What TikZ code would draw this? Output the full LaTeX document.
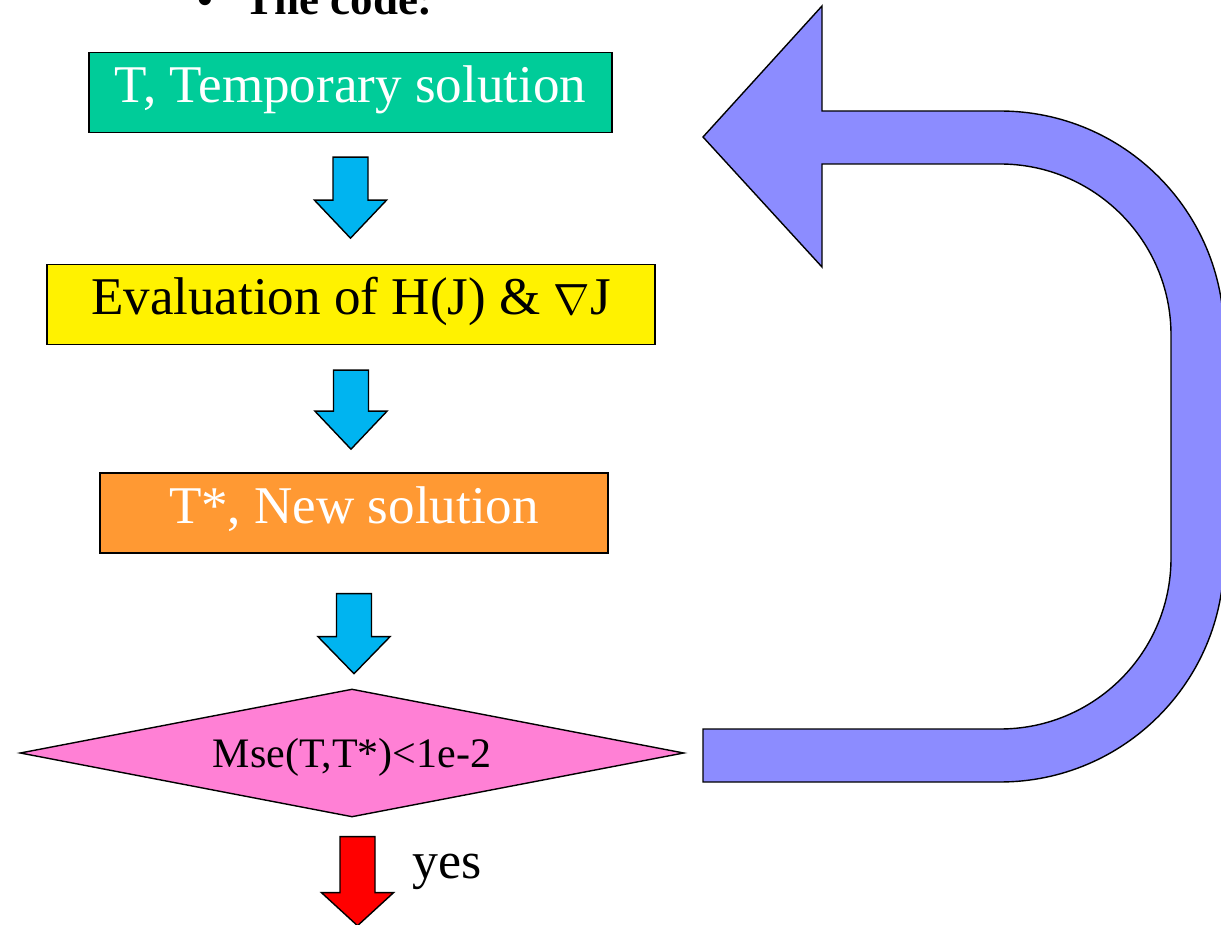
\documentclass[tikz,border=0pt]{standalone}
\usepackage{fontspec}
\setmainfont{Liberation Serif}
\usetikzlibrary{calc,shapes.geometric}
\definecolor{boxgreen}{HTML}{00CC99}
\definecolor{boxorange}{HTML}{FF9933}
\definecolor{flowblue}{HTML}{00B4F0}
\definecolor{testpink}{HTML}{FF80D5}
\definecolor{loopblue}{HTML}{8C8CFF}
\newcommand{\blockdown}[4]{\draw[fill=#2] (#1) ++(-17.5,0) -- ++(35,0) -- ++(0,#3)
  -- ++(18.5,0) -- ++(-36,#4) -- ++(-36,-#4) -- ++(18.5,0) -- cycle;}

\begin{document}
\begin{tikzpicture}[x=0.02cm,y=-0.02cm,line width=0.8pt,
  box/.style={draw,rectangle,inner sep=0pt,minimum height=1.6cm,
    font=\fontsize{30.2}{33}\selectfont,text height=18pt,text depth=6.6pt}]
\useasboundingbox (0,0) rectangle (1221,925);
\node[anchor=base west,font=\fontsize{25.6}{28}\selectfont\bfseries] (title) at (191,15)
  {\textbullet\hspace{0.69em}The code:};
\node[box,fill=boxgreen,text=white,minimum width=10.46cm] (temp) at (350.5,92.5) {T, Temporary solution};
\node[box,fill=yellow,minimum width=12.16cm] (eval) at (351,304.5) {Evaluation of H(J) \& $\nabla$J};
\node[box,fill=boxorange,text=white,minimum width=10.16cm] (new) at (354,513) {T*, New solution};
\node[draw,diamond,fill=testpink,aspect=5.2,inner sep=0pt,minimum width=13.28cm,minimum height=2.56cm,
  font=\fontsize{23.9}{26}\selectfont,text height=20pt,text depth=3pt] (test) at (352,753) {Mse(T,T*)<1e-2};
\blockdown{$(temp.south)+(0,24)$}{flowblue}{43}{38}
\blockdown{$(eval.south)+(0,25)$}{flowblue}{41}{38}
\blockdown{$(new.south)+(0,40)$}{flowblue}{43}{37}
\blockdown{$(test.south)+(5.5,19)$}{red}{56}{33}
\node[anchor=base west,font=\fontsize{29.5}{32}\selectfont] (yes) at (406,878) {yes};
% loop back to the top
\draw[fill=loopblue] (703,729) -- (1000,729) .. controls (1094.4,729) and (1171,652.6) .. (1171,558)
  -- (1171,335) .. controls (1171,240.6) and (1094.4,164) .. (1000,164)
  -- (822,164) -- (822,267) -- (703,137) -- (822,6) -- (822,111) -- (1000,111)
  .. controls (1123.7,111) and (1224,211.3) .. (1224,335)
  -- (1224,558) .. controls (1224,681.7) and (1123.7,782) .. (1000,782) -- (703,782) -- cycle;
\end{tikzpicture}
\end{document}
